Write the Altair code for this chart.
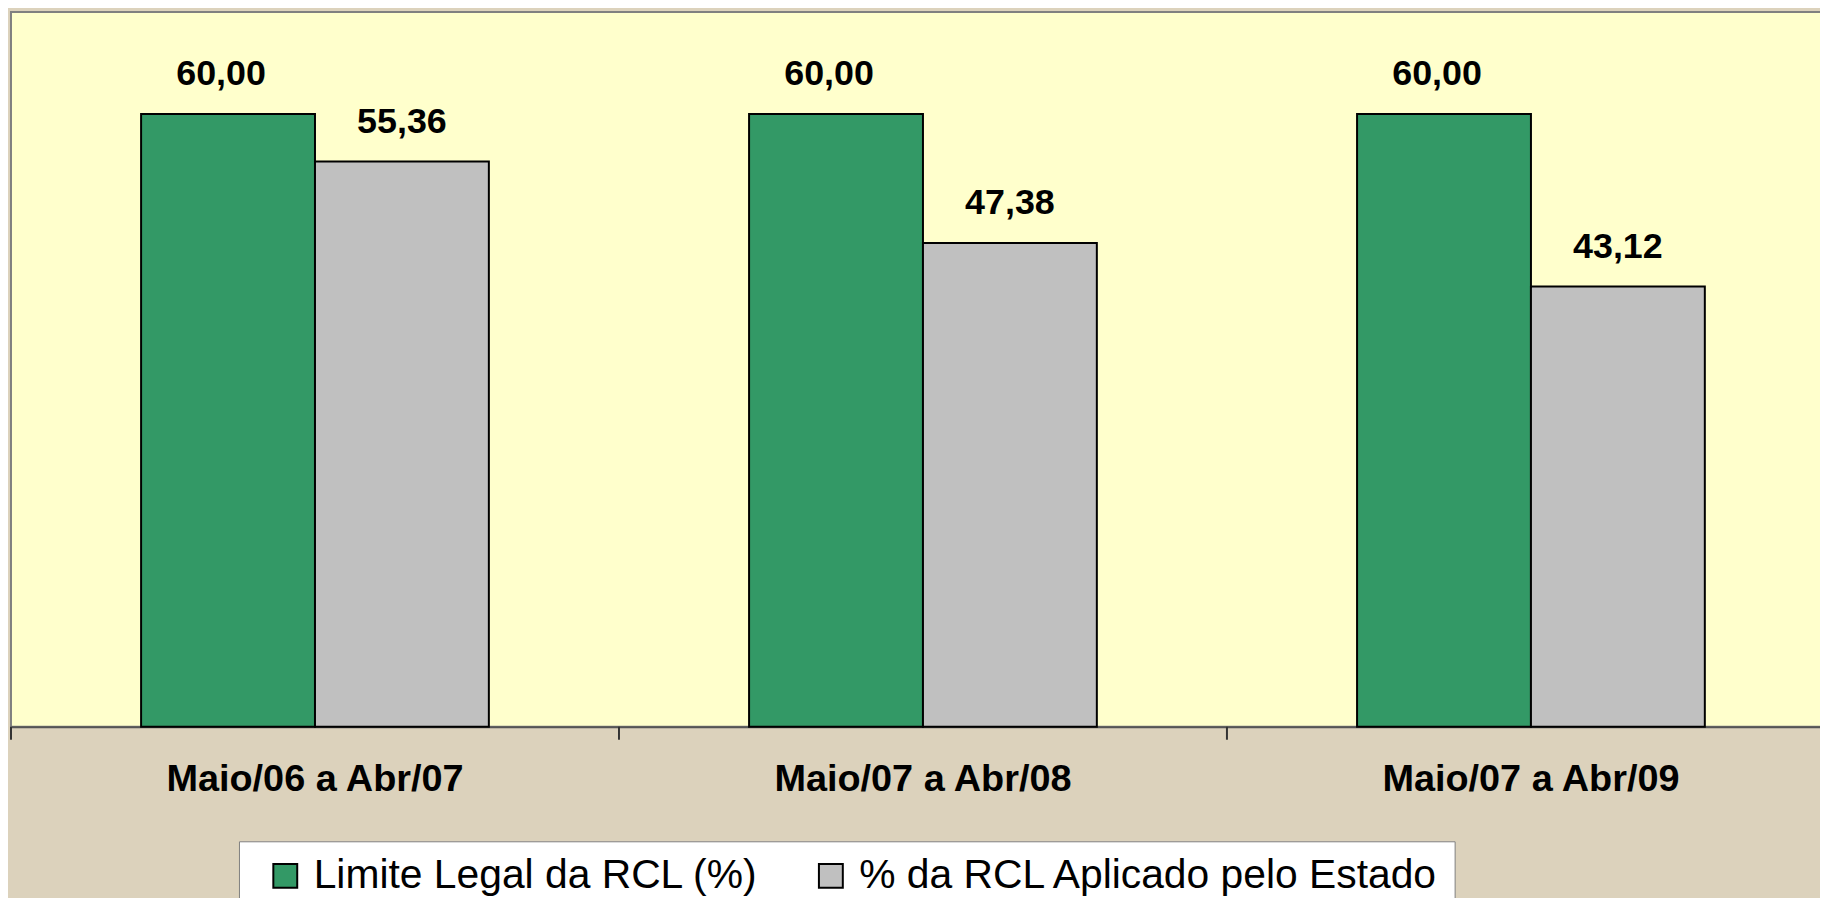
import altair as alt
import pandas as pd

periods = ["Maio/06 a Abr/07", "Maio/07 a Abr/08", "Maio/07 a Abr/09"]
series = ["Limite Legal da RCL (%)", "% da RCL Aplicado pelo Estado"]
limite = [60.00, 60.00, 60.00]
aplicado = [55.36, 47.38, 43.12]
colors = ["#339966", "#C0C0C0"]

rows = []
for i, p in enumerate(periods):
    rows.append({"periodo": p, "serie": series[0], "valor": limite[i]})
    rows.append({"periodo": p, "serie": series[1], "valor": aplicado[i]})
df = pd.DataFrame(rows)

FONT = "Liberation Sans"

xenc = alt.X(
    "periodo:N",
    sort=periods,
    scale=alt.Scale(paddingInner=0.428, paddingOuter=0.214),
    axis=alt.Axis(
        title=None, labelAngle=0, labelFont=FONT, labelFontSize=38,
        labelFontWeight="bold", labelColor="black", labelBaseline="alphabetic",
        labelPadding=64, ticks=False, tickSize=0, labelLimit=0,
        domainColor="#555555", domainWidth=2,
    ),
)
yenc = alt.Y("valor:Q", scale=alt.Scale(domain=[0, 70]), axis=None)
xoff = alt.XOffset("serie:N", sort=series, scale=alt.Scale(domain=series, paddingInner=0, paddingOuter=0))

bars = alt.Chart(df).mark_bar(stroke="black", strokeWidth=2).encode(
    x=xenc,
    y=yenc,
    xOffset=xoff,
    color=alt.Color(
        "serie:N",
        sort=series,
        scale=alt.Scale(domain=series, range=colors),
        legend=alt.Legend(
            title=None, orient="none", legendX=229, legendY=833,
            direction="horizontal", fillColor="white", strokeColor="#808080",
            padding=14, symbolType="square", symbolSize=576,
            symbolStrokeColor="black", symbolStrokeWidth=2, symbolOffset=12,
            labelFont=FONT, labelFontSize=41, labelColor="black",
            labelOffset=8, columnPadding=40, labelLimit=0,
        ),
    ),
)


def value_labels(serie, dx):
    return alt.Chart(df).transform_filter(
        alt.datum.serie == serie
    ).transform_calculate(
        rotulo="replace(format(datum.valor, '.2f'), '.', ',')"
    ).mark_text(
        dy=-29, dx=dx, font=FONT, fontSize=36, fontWeight="bold",
        color="black", baseline="alphabetic"
    ).encode(
        x=alt.X("periodo:N", sort=periods),
        y=yenc,
        xOffset=xoff,
        text="rotulo:N",
    )


labels_a = value_labels(series[0], -7)
labels_b = value_labels(series[1], 0)

ticks = alt.Chart(pd.DataFrame({"periodo": periods})).mark_rule(
    color="#333333", strokeWidth=2
).encode(
    x=alt.X("periodo:N", sort=periods, bandPosition=0,
            scale=alt.Scale(paddingInner=0, paddingOuter=0), axis=None),
    y=alt.value(718),
    y2=alt.value(731),
)

chart = alt.layer(alt.layer(bars, labels_a, labels_b), ticks).resolve_scale(x="independent").properties(
    width=1832, height=718,
    autosize=alt.AutoSizeParams(type="none"),
    padding={"left": 3, "top": 2, "right": -15, "bottom": 170},
    background="#DCD2BC",
).configure_view(
    fill="#FFFFCC", stroke="#808080", strokeWidth=2
)

chart.save("out.html", embed_options={"renderer": "svg", "actions": False})
